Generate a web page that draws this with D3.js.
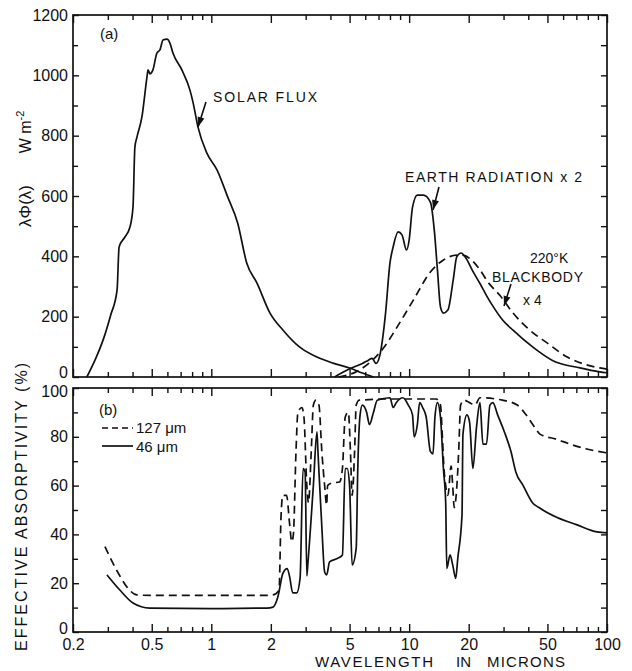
<!DOCTYPE html>
<html>
<head>
<meta charset="utf-8">
<script src="https://cdn.jsdelivr.net/npm/d3@7"></script>
<style>
  body { margin: 0; background: #fff; }
  svg { display: block; font-family: "Liberation Sans", Arial, sans-serif; }
  .axis text { font-size: 16px; fill: #111; }
  .axis line { stroke: #111; stroke-width: 1.4; }
  .axis path { display: none; }
  .curve { fill: none; stroke: #111; stroke-width: 1.7; }
  .dashed { stroke-dasharray: 8, 5; }
  .frame { fill: none; stroke: #111; stroke-width: 1.7; }
  .lbl { font-size: 14px; fill: #111; }
</style>
</head>
<body>
<div id="chart"></div>
<script>
// ---- DATA (wavelength in microns, value) ----

// panel (a): lambda*Phi(lambda) in W m-2
let solarFlux = [
    [0.235, 0], [0.26, 60], [0.284, 123], [0.31, 205], [0.334, 288], [0.342, 431],
    [0.366, 464], [0.388, 497], [0.402, 563], [0.411, 762], [0.421, 795], [0.446, 862],
    [0.473, 994], [0.479, 1018], [0.49, 1005], [0.501, 1011], [0.507, 1018], [0.531, 1074],
    [0.55, 1084], [0.57, 1117], [0.597, 1120], [0.618, 1107], [0.64, 1074], [0.71, 1018],
    [0.78, 951], [0.81, 908], [0.856, 829], [0.95, 742], [1.07, 686], [1.21, 597],
    [1.36, 510], [1.51, 378], [1.70, 312], [1.98, 212], [2.30, 156], [2.80, 99],
    [3.42, 66], [4.12, 46], [5.0, 30], [5.8, 13], [6.6, 0]
];

let earthRadiation = [
    [4.2, 0], [5.0, 27], [5.8, 45], [6.2, 55], [6.5, 62], [6.8, 45], [7.1, 70],
    [7.6, 212], [8.0, 378], [8.3, 431], [8.8, 481], [9.2, 471], [9.7, 421], [10.0, 454],
    [10.4, 563], [11.0, 603], [11.8, 603], [12.8, 580], [13.4, 487], [13.9, 355],
    [14.4, 232], [14.9, 212], [15.7, 222], [16.7, 322], [17.4, 398], [18.3, 411],
    [19.2, 398], [21.0, 350], [22.8, 310], [24.6, 270], [26.5, 235], [29.6, 190],
    [33.5, 155], [42.2, 99], [53, 55], [73, 30], [92, 17], [100, 14]
];

let blackbody = [
    [4.4, 0], [5.5, 20], [6.5, 55], [7.4, 95], [8.7, 166], [10.5, 255], [12.8, 348],
    [14.9, 388], [17.4, 404], [18.6, 404], [20.5, 390], [22.8, 355], [25, 315],
    [28.8, 270], [33.5, 212], [40.6, 156], [49.8, 113], [63, 66], [79, 40], [92, 30], [100, 26]
];

// panel (b): effective absorptivity in %
let absorb127 = [
    [0.29, 35], [0.334, 25], [0.375, 18.4], [0.42, 15.2], [0.5, 15], [1.0, 15], [1.91, 15],
    [2.05, 15.2], [2.2, 17], [2.25, 46.7], [2.3, 56], [2.4, 56], [2.49, 44], [2.55, 37],
    [2.6, 40], [2.68, 74], [2.74, 90], [2.87, 92], [2.94, 88], [3.04, 60], [3.1, 53],
    [3.2, 74], [3.28, 93], [3.38, 95], [3.5, 93], [3.62, 74], [3.74, 60], [3.83, 52],
    [3.87, 60], [4.05, 61], [4.45, 61.5], [4.6, 67], [4.75, 88], [4.93, 90], [5.05, 74],
    [5.15, 56], [5.3, 74], [5.4, 93], [5.6, 95], [8, 95.5], [13.7, 95.5], [14.4, 93],
    [14.7, 81], [15.0, 67], [15.3, 60], [15.7, 56], [16.3, 68], [16.6, 60], [16.9, 51],
    [17.4, 59], [17.8, 74], [18.2, 93], [19.0, 95], [20.2, 94], [21.5, 93], [22.8, 96],
    [29.6, 95], [35.2, 93], [39, 89], [43, 84], [46, 81], [55.6, 79], [65, 77], [79, 75], [100, 73.4]
];

let absorb46 = [
    [0.297, 23.4], [0.345, 17.2], [0.402, 11.9], [0.489, 9.8], [1.0, 9.6], [1.91, 9.8],
    [2.05, 10.2], [2.17, 14.3], [2.30, 24], [2.42, 26], [2.49, 22.5], [2.58, 16], [2.70, 16],
    [2.81, 22], [2.91, 67], [2.98, 65.6], [3.04, 23], [3.07, 27], [3.28, 60], [3.42, 82],
    [3.46, 74], [3.62, 43], [3.74, 24.6], [3.83, 23.4], [3.96, 28.7], [4.3, 30], [4.6, 31.6],
    [4.75, 67], [4.86, 67], [5.0, 60], [5.15, 27.5], [5.4, 34.4], [5.5, 67], [5.65, 89],
    [5.8, 93], [6.1, 90], [6.3, 85], [6.6, 90], [6.9, 95], [8.0, 96], [8.3, 92], [8.6, 94],
    [9.3, 96], [9.9, 93], [10.4, 89], [10.6, 80], [11.0, 85], [11.3, 94], [11.7, 92],
    [12.2, 88], [12.8, 74], [13.2, 73], [13.5, 88], [13.9, 94], [14.4, 88], [14.9, 67],
    [15.3, 53], [15.5, 26], [16.1, 31.6], [16.6, 27.5], [17.2, 22], [17.6, 30], [18.5, 48],
    [18.7, 81], [19.6, 89], [20.2, 86], [21.0, 67], [21.9, 84], [22.8, 94], [23.6, 77],
    [24.6, 77], [25.6, 93], [26.5, 94], [28, 89], [30.3, 82], [32.7, 74], [34.6, 65.6],
    [37.7, 60], [42, 53], [45.3, 51], [55.6, 47], [70, 44], [89, 41], [100, 40.6]
];

// tick values
let xMajorTicks = [0.2, 0.5, 1, 2, 5, 10, 20, 50, 100];
let xMinorTicks = [0.3, 0.4, 0.6, 0.7, 0.8, 0.9, 3, 4, 6, 7, 8, 9, 30, 40, 60, 70, 80, 90];
let fluxTicks = [0, 200, 400, 600, 800, 1000, 1200];
let fluxMinorTicks = [100, 300, 500, 700, 900, 1100];
let absTicks = [0, 20, 40, 60, 80, 100];
let absMinorTicks = [10, 30, 50, 70, 90];


// ---- LAYOUT ----
let width = 632, height = 671;
let plotLeft = 73, plotRight = 607;
let topPanel = {top: 15, bottom: 377};
let botPanel = {top: 388, bottom: 632};

let svg = d3.select("#chart").append("svg")
    .attr("width", width)
    .attr("height", height);

let x = d3.scaleLog()
    .domain([0.2, 100])
    .range([plotLeft, plotRight]);

let yFlux = d3.scaleLinear()
    .domain([0, 1200])
    .range([topPanel.bottom, topPanel.top]);

let yAbs = d3.scaleLinear()
    .domain([0, 100])
    .range([botPanel.bottom, botPanel.top]);


// ---- AXES (ticks point inward) ----
function drawXTicks(yPos, showLabels, dir) {
    let make = dir === "top" ? d3.axisTop : d3.axisBottom;
    svg.append("g")
        .attr("class", "axis")
        .attr("transform", "translate(0," + yPos + ")")
        .call(make(x).tickValues(xMinorTicks).tickSize(-5).tickSizeOuter(0).tickFormat(""));
    return svg.append("g")
        .attr("class", "axis")
        .attr("transform", "translate(0," + yPos + ")")
        .call(make(x).tickValues(xMajorTicks).tickSize(-8).tickSizeOuter(0).tickPadding(7)
            .tickFormat(showLabels ? (d => d) : ""));
}

function drawYTicks(scale, major, minor) {
    let g = svg.append("g")
        .attr("class", "axis")
        .attr("transform", "translate(" + plotLeft + ",0)")
        .call(d3.axisLeft(scale).tickValues(major).tickSize(-6).tickSizeOuter(0).tickPadding(5)
            .tickFormat(d => d));
    svg.append("g")
        .attr("class", "axis")
        .attr("transform", "translate(" + plotLeft + ",0)")
        .call(d3.axisLeft(scale).tickValues(minor).tickSize(-5).tickSizeOuter(0).tickFormat(""));
    svg.append("g")
        .attr("class", "axis")
        .attr("transform", "translate(" + plotRight + ",0)")
        .call(d3.axisRight(scale).tickValues(major.concat(minor)).tickSize(-6).tickSizeOuter(0).tickFormat(""));
    return g;
}

// panel (a)
drawXTicks(topPanel.top, false, "top");
drawXTicks(topPanel.bottom, false, "bottom");
let fluxAxis = drawYTicks(yFlux, fluxTicks, fluxMinorTicks);

// panel (b)
drawXTicks(botPanel.top, false, "top");
drawXTicks(botPanel.bottom, true, "bottom");
let absAxis = drawYTicks(yAbs, absTicks, absMinorTicks);

// the two panels share a corner: nudge the crowded labels apart a little
fluxAxis.selectAll(".tick text").filter(d => d === 0).attr("dy", "0.05em");
absAxis.selectAll(".tick text").filter(d => d === 100).attr("dy", "0.5em");
absAxis.selectAll(".tick text").filter(d => d === 0).attr("dy", "0.1em");

// frames
svg.append("rect").attr("class", "frame")
    .attr("x", plotLeft).attr("y", topPanel.top)
    .attr("width", plotRight - plotLeft).attr("height", topPanel.bottom - topPanel.top);
svg.append("rect").attr("class", "frame")
    .attr("x", plotLeft).attr("y", botPanel.top)
    .attr("width", plotRight - plotLeft).attr("height", botPanel.bottom - botPanel.top);


// ---- CURVES ----
let fluxLine = d3.line()
    .x(d => x(d[0]))
    .y(d => yFlux(d[1]))
    .curve(d3.curveMonotoneX);

let absLine = d3.line()
    .x(d => x(d[0]))
    .y(d => yAbs(d[1]))
    .curve(d3.curveMonotoneX);

svg.append("path").attr("class", "curve").attr("d", fluxLine(solarFlux));
svg.append("path").attr("class", "curve").attr("d", fluxLine(earthRadiation));
svg.append("path").attr("class", "curve dashed").attr("d", fluxLine(blackbody));

svg.append("path").attr("class", "curve dashed").attr("d", absLine(absorb127));
svg.append("path").attr("class", "curve").attr("d", absLine(absorb46));


// ---- ANNOTATIONS ----
function arrow(x1, y1, x2, y2) {
    svg.append("line")
        .attr("x1", x1).attr("y1", y1).attr("x2", x2).attr("y2", y2)
        .attr("stroke", "#111").attr("stroke-width", 1.6);
    let ang = Math.atan2(y2 - y1, x2 - x1);
    let len = 10, half = 3.5;
    let bx = x2 - len * Math.cos(ang), by = y2 - len * Math.sin(ang);
    let px = -Math.sin(ang) * half, py = Math.cos(ang) * half;
    svg.append("path")
        .attr("d", "M" + x2 + "," + y2 + "L" + (bx + px) + "," + (by + py) + "L" + (bx - px) + "," + (by - py) + "Z")
        .attr("fill", "#111");
}

svg.append("text").attr("class", "lbl").attr("x", 100).attr("y", 39).style("font-size", "15px").text("(a)");
svg.append("text").attr("class", "lbl").attr("x", 99).attr("y", 415).style("font-size", "15px").text("(b)");

svg.append("text").attr("class", "lbl").attr("x", 213).attr("y", 102)
    .attr("textLength", 104).text("SOLAR  FLUX");
arrow(206, 102, 198, 127);

svg.append("text").attr("class", "lbl").attr("x", 405).attr("y", 182)
    .attr("textLength", 177).text("EARTH RADIATION  x 2");
arrow(439, 187, 433, 210);

svg.append("text").attr("class", "lbl").attr("x", 530).attr("y", 263).text("220°K");
svg.append("text").attr("class", "lbl").attr("x", 492).attr("y", 282)
    .attr("textLength", 91).text("BLACKBODY");
svg.append("text").attr("class", "lbl").attr("x", 523).attr("y", 305).text("x 4");
arrow(511, 284, 504, 306);

// legend (b)
svg.append("line").attr("class", "curve dashed")
    .attr("x1", 102).attr("x2", 133).attr("y1", 428).attr("y2", 428)
    .style("stroke-dasharray", "6,4");
svg.append("text").attr("class", "lbl").attr("x", 136).attr("y", 433).style("font-size", "15px").text("127 μm");
svg.append("line").attr("class", "curve")
    .attr("x1", 102).attr("x2", 133).attr("y1", 446).attr("y2", 446);
svg.append("text").attr("class", "lbl").attr("x", 136).attr("y", 452).style("font-size", "15px").text("46 μm");

// axis titles
svg.append("text").attr("class", "lbl")
    .attr("transform", "translate(31,206) rotate(-90)")
    .attr("text-anchor", "middle")
    .style("font-size", "17px")
    .text("λΦ(λ)");
let wm = svg.append("text").attr("class", "lbl")
    .attr("transform", "translate(31,132) rotate(-90)")
    .attr("text-anchor", "middle")
    .style("font-size", "16px");
wm.append("tspan").text("W m");
wm.append("tspan").attr("dy", -7).style("font-size", "11px").text("-2");

svg.append("text").attr("class", "lbl")
    .attr("transform", "translate(27,507) rotate(-90)")
    .attr("text-anchor", "middle")
    .attr("textLength", 288)
    .style("font-size", "16px")
    .text("EFFECTIVE  ABSORPTIVITY (%)");

let xt = [["WAVELENGTH", 315, 118], ["IN", 456, 15], ["MICRONS", 487, 78]];
xt.forEach(function (w) {
    svg.append("text").attr("class", "lbl")
        .attr("x", w[1]).attr("y", 667)
        .attr("textLength", w[2])
        .style("font-size", "15px")
        .text(w[0]);
});
</script>
</body>
</html>
